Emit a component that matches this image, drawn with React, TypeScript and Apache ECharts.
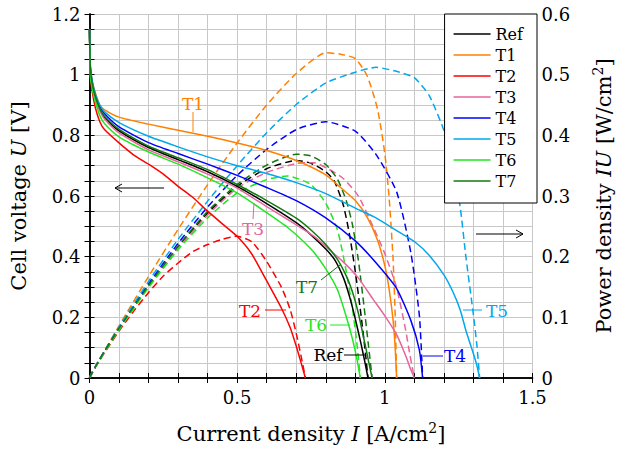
import React, { useEffect, useRef } from "react";
import * as echarts from "echarts";

// Current density I [A/cm2] and cell voltage U [V] for each variant
const I_REF = [0, 0.003, 0.01, 0.02, 0.035, 0.05, 0.1, 0.2, 0.3, 0.4, 0.5, 0.6, 0.7, 0.75, 0.8, 0.83, 0.86, 0.88, 0.9, 0.92, 0.933, 0.943];
const V_REF = [1.15, 1.02, 0.965, 0.925, 0.885, 0.86, 0.815, 0.76, 0.72, 0.68, 0.632, 0.575, 0.512, 0.472, 0.425, 0.39, 0.33, 0.27, 0.195, 0.11, 0.05, 0];

const I_T1 = [0, 0.003, 0.01, 0.02, 0.035, 0.05, 0.1, 0.2, 0.3, 0.4, 0.5, 0.6, 0.7, 0.8, 0.85, 0.9, 0.94, 0.975, 1.0, 1.015, 1.028, 1.035, 1.04];
const V_T1 = [1.15, 1.03, 0.975, 0.94, 0.9, 0.885, 0.86, 0.837, 0.817, 0.797, 0.775, 0.75, 0.717, 0.67, 0.628, 0.585, 0.53, 0.455, 0.37, 0.29, 0.19, 0.1, 0];

const I_T2 = [0, 0.003, 0.01, 0.02, 0.035, 0.05, 0.1, 0.15, 0.2, 0.25, 0.3, 0.35, 0.4, 0.45, 0.5, 0.55, 0.6, 0.65, 0.68, 0.7, 0.718, 0.731];
const V_T2 = [1.15, 1.0, 0.94, 0.89, 0.845, 0.82, 0.775, 0.735, 0.705, 0.672, 0.632, 0.595, 0.55, 0.508, 0.467, 0.408, 0.32, 0.23, 0.165, 0.105, 0.045, 0];

const I_T3 = [0, 0.003, 0.01, 0.02, 0.035, 0.05, 0.1, 0.2, 0.3, 0.4, 0.5, 0.6, 0.7, 0.76, 0.81, 0.86, 0.91, 0.96, 1.0, 1.04, 1.07, 1.085, 1.1];
const V_T3 = [1.15, 1.01, 0.96, 0.92, 0.88, 0.855, 0.808, 0.752, 0.713, 0.672, 0.626, 0.565, 0.505, 0.467, 0.425, 0.382, 0.33, 0.26, 0.205, 0.143, 0.075, 0.035, 0];

const I_T4 = [0, 0.003, 0.01, 0.02, 0.035, 0.05, 0.1, 0.2, 0.3, 0.4, 0.5, 0.6, 0.7, 0.8, 0.9, 0.97, 1.04, 1.088, 1.117, 1.128];
const V_T4 = [1.15, 1.02, 0.97, 0.93, 0.895, 0.872, 0.828, 0.776, 0.74, 0.705, 0.668, 0.628, 0.585, 0.528, 0.452, 0.38, 0.295, 0.19, 0.092, 0];

const I_T5 = [0, 0.003, 0.01, 0.02, 0.035, 0.05, 0.1, 0.2, 0.3, 0.4, 0.5, 0.6, 0.7, 0.8, 0.9, 0.97, 1.05, 1.1, 1.15, 1.2, 1.23, 1.255, 1.275, 1.3, 1.312, 1.321];
const V_T5 = [1.15, 1.025, 0.975, 0.935, 0.9, 0.878, 0.842, 0.797, 0.762, 0.729, 0.7, 0.674, 0.644, 0.608, 0.56, 0.528, 0.48, 0.45, 0.405, 0.34, 0.285, 0.225, 0.155, 0.08, 0.04, 0];

const I_T6 = [0, 0.003, 0.01, 0.02, 0.035, 0.05, 0.1, 0.2, 0.3, 0.4, 0.5, 0.6, 0.67, 0.75, 0.8, 0.84, 0.87, 0.89, 0.905, 0.917];
const V_T6 = [1.15, 0.995, 0.95, 0.91, 0.865, 0.84, 0.795, 0.745, 0.705, 0.66, 0.61, 0.545, 0.497, 0.425, 0.36, 0.29, 0.2, 0.13, 0.065, 0];

const I_T7 = [0, 0.003, 0.01, 0.02, 0.035, 0.05, 0.1, 0.2, 0.3, 0.4, 0.5, 0.6, 0.7, 0.75, 0.8, 0.84, 0.87, 0.89, 0.91, 0.93, 0.945, 0.957];
const V_T7 = [1.15, 1.02, 0.967, 0.928, 0.888, 0.864, 0.82, 0.764, 0.726, 0.687, 0.638, 0.585, 0.527, 0.488, 0.44, 0.39, 0.335, 0.285, 0.215, 0.125, 0.055, 0];

const NAMES = ["Ref", "T1", "T2", "T3", "T4", "T5", "T6", "T7"];
const COLORS = ["#000000", "#ff8000", "#ff0000", "#e8649c", "#0000ff", "#00a8ec", "#22e622", "#127812"];
const CURRENTS = [I_REF, I_T1, I_T2, I_T3, I_T4, I_T5, I_T6, I_T7];
const VOLTAGES = [V_REF, V_T1, V_T2, V_T3, V_T4, V_T5, V_T6, V_T7];

const X_TICKS = ["0", "0.5", "1", "1.5"];
const Y_TICKS = ["0", "0.2", "0.4", "0.6", "0.8", "1", "1.2"];
const Y2_TICKS = ["0", "0.1", "0.2", "0.3", "0.4", "0.5", "0.6"];

const FONT = "DejaVu Serif";

function fmt(list: string[]) {
  return (v: number) => {
    const s = String(Math.round(v * 1000) / 1000);
    return list.includes(s) ? s : "";
  };
}

export default function App() {
  const ref = useRef<HTMLDivElement>(null);
  useEffect(() => {
    if (!ref.current) return;
    const chart = echarts.init(ref.current, null, { renderer: "svg" });
    const series: any[] = [];
    NAMES.forEach((n, k) => {
      const I = CURRENTS[k];
      const V = VOLTAGES[k];
      series.push({
        name: n,
        type: "line",
        xAxisIndex: 0,
        yAxisIndex: 0,
        symbol: "none",
        smooth: 0.2,
        data: I.map((x, i) => [x, V[i]]),
        lineStyle: { color: COLORS[k], width: 1.5 },
        itemStyle: { color: COLORS[k] },
        z: 3,
      });
      series.push({
        name: n + " P",
        type: "line",
        xAxisIndex: 0,
        yAxisIndex: 1,
        symbol: "none",
        smooth: 0.2,
        data: I.map((x, i) => [x, x * V[i]]),
        lineStyle: { color: COLORS[k], width: 1.5, type: [7, 4] },
        itemStyle: { color: COLORS[k] },
        z: 2,
      });
    });

    const axisLine = { show: true, lineStyle: { color: "#000", width: 1.5 } };
    const tick = { show: true, inside: true, length: 5, lineStyle: { color: "#000", width: 1 } };
    const labelStyle = { color: "#000", fontSize: 18, fontFamily: FONT };
    const rich = {
      t: { fontSize: 21, fontFamily: FONT, color: "#000", lineHeight: 26 },
      i: { fontSize: 21, fontFamily: FONT, color: "#000", fontStyle: "italic", lineHeight: 26 },
      s: { fontSize: 14, fontFamily: FONT, color: "#000", verticalAlign: "top", lineHeight: 14 },
    };

    const lbl = (x: number, y: number, text: string, color: string) => ({
      type: "text",
      x,
      y,
      style: { text, fill: color, fontSize: 17, fontFamily: FONT, align: "center", verticalAlign: "middle" },
      z: 20,
    });
    const seg = (x1: number, y1: number, x2: number, y2: number, color: string) => ({
      type: "line",
      shape: { x1, y1, x2, y2 },
      style: { stroke: color, lineWidth: 1 },
      z: 20,
    });

    chart.setOption({
      animation: false,
      backgroundColor: "#fff",
      grid: { left: 89, right: 86, top: 14, bottom: 72 },
      legend: {
        data: NAMES.map((n) => ({ name: n, icon: "rect" })),
        orient: "vertical",
        right: 85,
        top: 14,
        backgroundColor: "#fff",
        borderColor: "#000",
        borderWidth: 1,
        borderRadius: 0,
        padding: [10, 14, 12, 9],
        itemWidth: 37,
        itemHeight: 1.5,
        itemGap: 1,
        textStyle: { fontSize: 16, fontFamily: FONT, color: "#000", lineHeight: 20 },
        z: 10,
      },
      xAxis: [
        {
          type: "value",
          min: 0,
          max: 1.5,
          interval: 0.1,
          position: "bottom",
          axisLine,
          axisTick: tick,
          axisLabel: { ...labelStyle, margin: 10, formatter: fmt(X_TICKS), showMinLabel: true, showMaxLabel: true },
          splitLine: { show: true, lineStyle: { color: "#c8c8c8", width: 1 } },
          name: "{t|Current density }{i|I}{t| [A/cm}{s|2}{t|]}",
          nameLocation: "middle",
          nameGap: 43,
          nameTextStyle: { rich },
        },
        {
          type: "value",
          min: 0,
          max: 1.5,
          interval: 0.1,
          position: "top",
          axisLine,
          axisTick: tick,
          axisLabel: { show: false },
          splitLine: { show: false },
        },
      ],
      yAxis: [
        {
          type: "value",
          min: 0,
          max: 1.2,
          interval: 0.05,
          position: "left",
          axisLine,
          axisTick: tick,
          axisLabel: { ...labelStyle, margin: 9, formatter: fmt(Y_TICKS), showMinLabel: true, showMaxLabel: true },
          splitLine: { show: true, lineStyle: { color: "#c8c8c8", width: 1 } },
          name: "{t|Cell voltage }{i|U}{t| [V]}",
          nameLocation: "middle",
          nameRotate: 90,
          nameGap: 58,
          nameTextStyle: { rich },
        },
        {
          type: "value",
          min: 0,
          max: 0.6,
          interval: 0.025,
          position: "right",
          axisLine,
          axisTick: tick,
          axisLabel: { ...labelStyle, margin: 9, formatter: fmt(Y2_TICKS), showMinLabel: true, showMaxLabel: true },
          splitLine: { show: false },
          name: "{t|Power density }{i|IU}{t| [W/cm}{s|2}{t|]}",
          nameLocation: "middle",
          nameRotate: 90,
          nameGap: 58,
          nameTextStyle: { rich },
        },
      ],
      graphic: [
        lbl(193, 104, "T1", COLORS[1]),
        seg(193, 112, 193, 132, COLORS[1]),
        lbl(253, 229, "T3", COLORS[3]),
        seg(254, 203, 253, 219, COLORS[3]),
        lbl(250, 311, "T2", COLORS[2]),
        seg(265, 310, 286, 310, COLORS[2]),
        lbl(307, 287, "T7", COLORS[7]),
        seg(321, 280, 340, 265, COLORS[7]),
        lbl(316, 325, "T6", COLORS[6]),
        seg(330, 325, 350, 325, COLORS[6]),
        lbl(328, 355, "Ref", COLORS[0]),
        seg(344, 355, 365, 355, COLORS[0]),
        lbl(455, 356, "T4", COLORS[4]),
        seg(423, 356, 443, 356, COLORS[4]),
        lbl(497, 311, "T5", COLORS[5]),
        seg(463, 310, 482, 310, COLORS[5]),
        seg(115, 188, 164, 188, "#000"),
        { type: "polyline", shape: { points: [[122, 184], [115, 188], [122, 192]] }, style: { stroke: "#000", lineWidth: 1, fill: null }, z: 20 },
        seg(476, 234, 523, 234, "#000"),
        { type: "polyline", shape: { points: [[516, 230], [523, 234], [516, 238]] }, style: { stroke: "#000", lineWidth: 1, fill: null }, z: 20 },
      ],
      series,
    });
    return () => chart.dispose();
  }, []);
  return <div ref={ref} style={{ width: 622, height: 450, position: "absolute", left: 0, top: 0 }} />;
}
